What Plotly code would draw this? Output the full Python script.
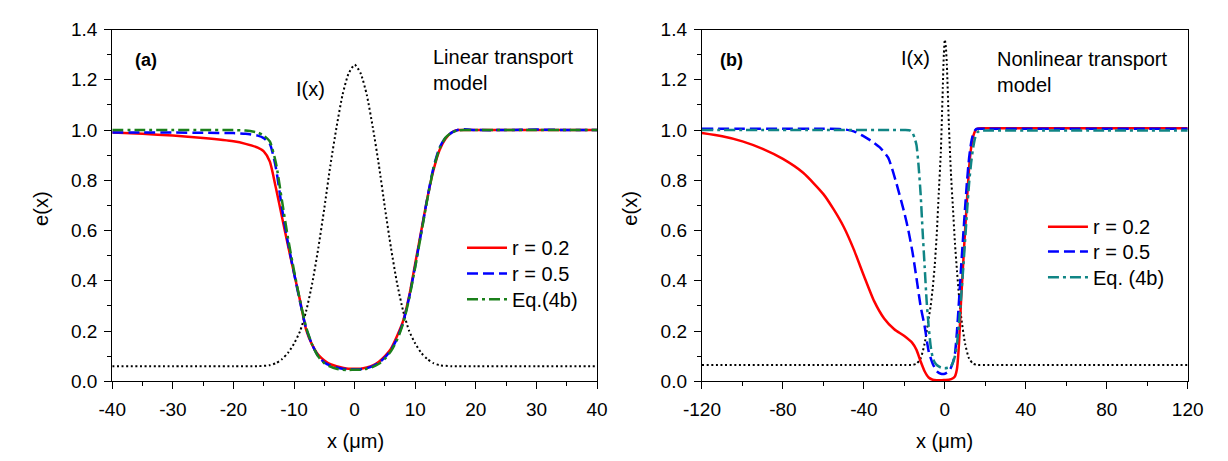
import plotly.graph_objects as go

# ---------------- Panel (a): linear transport model ----------------
xa = [-40, -35, -30, -25, -20, -18, -16, -15, -14, -13, -12, -11, -10, -9, -8, -7, -6, -5, -4, -3, -2, -1,
      0, 1, 2, 3, 4, 5, 6, 7, 8, 9, 10, 11, 12, 13, 14, 15, 16, 17, 18, 20, 25, 30, 35, 40]
a_r02 = [0.99, 0.985, 0.978, 0.968, 0.955, 0.945, 0.93, 0.915, 0.875, 0.77, 0.655, 0.54, 0.43, 0.32, 0.205, 0.145,
         0.105, 0.083, 0.068, 0.06, 0.054, 0.05, 0.05, 0.05, 0.055, 0.063, 0.078, 0.1, 0.13, 0.18, 0.24, 0.34,
         0.47, 0.6, 0.73, 0.84, 0.92, 0.965, 0.99, 1.0, 1.0, 1.0, 1.0, 1.0, 1.0, 1.0]
a_r05 = [0.99, 0.99, 0.99, 0.989, 0.988, 0.985, 0.978, 0.968, 0.945, 0.85, 0.69, 0.55, 0.43, 0.315, 0.21, 0.145,
         0.1, 0.075, 0.062, 0.055, 0.05, 0.048, 0.047, 0.048, 0.052, 0.06, 0.074, 0.095, 0.125, 0.17, 0.235, 0.335,
         0.46, 0.595, 0.73, 0.85, 0.93, 0.97, 0.99, 1.0, 1.003, 1.0, 1.0, 1.002, 1.0, 1.0]
a_eq = [1.0, 1.0, 1.0, 1.0, 1.0, 0.998, 0.99, 0.978, 0.955, 0.87, 0.72, 0.57, 0.44, 0.32, 0.215, 0.145,
        0.098, 0.072, 0.058, 0.05, 0.046, 0.045, 0.046, 0.046, 0.05, 0.057, 0.07, 0.09, 0.12, 0.165, 0.23, 0.33,
        0.455, 0.59, 0.725, 0.845, 0.925, 0.97, 0.99, 0.998, 1.0, 1.0, 1.0, 1.0, 1.0, 1.0]
xa_I = [-40, -30, -20, -16, -14, -13, -12, -11, -10, -9, -8, -7, -6, -5, -4, -3, -2, -1, 0,
        1, 2, 3, 4, 5, 6, 7, 8, 9, 10, 11, 12, 13, 14, 16, 20, 30, 40]
a_I = [0.06, 0.06, 0.06, 0.06, 0.064, 0.072, 0.088, 0.113, 0.15, 0.2, 0.28, 0.39, 0.53, 0.69, 0.86, 1.01, 1.14,
       1.225, 1.26, 1.225, 1.14, 1.01, 0.86, 0.69, 0.53, 0.39, 0.28, 0.2, 0.15, 0.113, 0.088, 0.072, 0.064,
       0.06, 0.06, 0.06, 0.06]

# ---------------- Panel (b): nonlinear transport model ----------------
xb_r02 = [-120, -110, -100, -90, -80, -70, -60, -55, -50, -45, -40, -35, -30, -25, -20, -16, -14, -12, -10, -8,
          -6, -4, -2, 0, 2, 4, 5, 6, 7, 8, 9, 10, 11, 12, 13, 14, 15, 16, 18, 20, 40, 60, 80, 100, 120]
b_r02 = [0.988, 0.975, 0.955, 0.925, 0.885, 0.83, 0.745, 0.685, 0.615, 0.525, 0.42, 0.32, 0.25, 0.207, 0.18, 0.152,
         0.125, 0.08, 0.04, 0.015, 0.006, 0.004, 0.004, 0.005, 0.006, 0.012, 0.02, 0.05, 0.15, 0.32, 0.46, 0.6,
         0.73, 0.85, 0.93, 0.975, 0.997, 1.005, 1.007, 1.007, 1.007, 1.007, 1.007, 1.007, 1.007]
xb_r05 = [-120, -100, -80, -60, -50, -45, -40, -36, -32, -28, -24, -20, -18, -16, -14, -12, -10, -8, -6, -4, -2,
          0, 2, 3, 4, 5, 6, 7, 8, 9, 10, 11, 12, 13, 14, 15, 16, 20, 40, 60, 80, 100, 120]
b_r05 = [1.005, 1.005, 1.005, 1.005, 1.003, 0.995, 0.975, 0.955, 0.93, 0.89, 0.79, 0.67, 0.6, 0.515, 0.41, 0.3,
         0.22, 0.12, 0.07, 0.04, 0.03, 0.03, 0.04, 0.054, 0.075, 0.11, 0.2, 0.32, 0.45, 0.57, 0.69, 0.8, 0.89,
         0.95, 0.985, 1.0, 1.005, 1.005, 1.005, 1.005, 1.005, 1.005, 1.005]
xb_eq = [-120, -60, -20, -17, -16, -15, -14, -13, -12, -11, -10, -9, -8, -7, -6, -5, -4, -2, 0, 2, 3, 4, 5, 6,
         7, 8, 9, 10, 11, 12, 13, 14, 15, 16, 17, 18, 20, 40, 80, 120]
b_eq = [1.0, 1.0, 1.0, 0.998, 0.99, 0.97, 0.94, 0.86, 0.75, 0.6, 0.46, 0.32, 0.22, 0.14, 0.095, 0.075, 0.065,
        0.055, 0.052, 0.055, 0.06, 0.075, 0.1, 0.15, 0.23, 0.33, 0.44, 0.56, 0.68, 0.79, 0.87, 0.93, 0.97, 0.99,
        0.996, 0.998, 0.998, 0.998, 0.998, 0.998]
xb_I = [-120, -20, -16, -14, -12, -10, -8, -7, -6, -5, -4, -3, -2, -1, -0.5, 0, 0.5, 1, 2, 3, 4, 5, 6, 7, 8,
        10, 12, 14, 16, 20, 120]
b_I = [0.065, 0.065, 0.065, 0.07, 0.09, 0.15, 0.25, 0.3, 0.37, 0.46, 0.585, 0.75, 0.91, 1.17, 1.3, 1.36, 1.33,
       1.26, 1.02, 0.83, 0.69, 0.55, 0.44, 0.34, 0.26, 0.15, 0.09, 0.07, 0.065, 0.065, 0.065]

xticks_a = [-40, -30, -20, -10, 0, 10, 20, 30, 40]
xticks_b = [-120, -80, -40, 0, 40, 80, 120]
yticks = [0.0, 0.2, 0.4, 0.6, 0.8, 1.0, 1.2, 1.4]

RED, BLUE, GREEN, TEAL = "#ff0000", "#0000ff", "#1b801b", "#108585"
FONT = "Liberation Sans, Arial, sans-serif"
DOT = "2px,2.6px"
DASH = "11px,5px"
DASHDOT = "11px,4px,3px,4px"

W, H = 1228, 461
fig = go.Figure()

def add(x, y, color, dash, width, name, xa_, ya_, legend, show):
    fig.add_trace(go.Scatter(x=x, y=y, mode="lines", name=name, xaxis=xa_, yaxis=ya_,
                             line=dict(color=color, dash=dash, width=width, shape="spline", smoothing=0.6),
                             showlegend=show, legend=legend, hoverinfo="skip"))

add(xa_I, a_I, "black", DOT, 2, "I(x)", "x", "y", "legend", False)
add(xa, a_r02, RED, "solid", 2.5, "r = 0.2", "x", "y", "legend", True)
add(xa, a_r05, BLUE, DASH, 2.5, "r = 0.5", "x", "y", "legend2", True)
add(xa, a_eq, GREEN, DASHDOT, 2.5, "Eq.(4b)", "x", "y", "legend3", True)

add(xb_I, b_I, "black", DOT, 2, "I(x)", "x2", "y2", "legend4", False)
add(xb_r02, b_r02, RED, "solid", 2.5, "r = 0.2", "x2", "y2", "legend4", True)
add(xb_r05, b_r05, BLUE, DASH, 2.5, "r = 0.5", "x2", "y2", "legend5", True)
add(xb_eq, b_eq, TEAL, DASHDOT, 2.5, "Eq. (4b)", "x2", "y2", "legend6", True)

ydom = [(H - 389) / H, (H - 20.5) / H]

minor_common = dict(ticks="outside", ticklen=4, tickwidth=1.2, tickcolor="black")
axis_common = dict(showline=True, linecolor="black", linewidth=1.3, mirror=True, ticks="outside",
                   ticklen=7, tickwidth=1.2, tickcolor="black", showgrid=False, zeroline=False,
                   tickfont=dict(family=FONT, size=19, color="black"))


def legend_at(px, py):
    return dict(x=px / W, y=(H - py) / H, xanchor="left", yanchor="middle", bgcolor="rgba(0,0,0,0)",
                font=dict(family=FONT, size=20, color="black"), itemwidth=40, borderwidth=0)


fig.update_layout(
    width=W, height=H, margin=dict(l=0, r=0, t=0, b=0),
    paper_bgcolor="white", plot_bgcolor="white",
    font=dict(family=FONT, color="black"),
    xaxis=dict(axis_common, domain=[96 / W, 595 / W], anchor="y", range=[-40, 40],
               tickvals=xticks_a, ticktext=[str(v) for v in xticks_a], ticklabelstandoff=4,
               minor=dict(minor_common, dtick=5)),
    yaxis=dict(axis_common, domain=ydom, anchor="x", range=[0, 1.4], tickvals=yticks,
               ticktext=[f"{v:.1f}" for v in yticks], ticklabelstandoff=3,
               minor=dict(minor_common, dtick=0.1)),
    xaxis2=dict(axis_common, domain=[703 / W, 1203 / W], anchor="y2", range=[-120, 120],
                tickvals=xticks_b, ticktext=[str(v) for v in xticks_b], ticklabelstandoff=4,
                minor=dict(minor_common, dtick=20)),
    yaxis2=dict(axis_common, domain=ydom, anchor="x2", range=[0, 1.4], tickvals=yticks,
                ticktext=[f"{v:.1f}" for v in yticks], ticklabelstandoff=3,
                minor=dict(minor_common, dtick=0.1)),
    legend=legend_at(456, 249),
    legend2=legend_at(456, 276),
    legend3=legend_at(456, 303),
    legend4=legend_at(1054, 227),
    legend5=legend_at(1054, 253),
    legend6=legend_at(1054, 280),
)

def text(s, x, y, xref, yref, size=20, xanchor="center", yanchor="middle", textangle=0, align="center"):
    fig.add_annotation(text=s, x=x, y=y, xref=xref, yref=yref, showarrow=False, xanchor=xanchor,
                       yanchor=yanchor, textangle=textangle, align=align,
                       font=dict(family=FONT, size=size, color="black"))

# panel texts (data coordinates)
text("<b>(a)</b>", -34.5, 1.278, "x", "y", size=18)
text("Linear transport<br>model", 12.6, 1.24, "x", "y", xanchor="left", align="left")
text("I(x)", -7.3, 1.164, "x", "y")
text("<b>(b)</b>", -105.6, 1.278, "x2", "y2", size=18)
text("Nonlinear transport<br>model", 25.0, 1.231, "x2", "y2", xanchor="left", align="left")
text("I(x)", -14.4, 1.286, "x2", "y2")

# axis titles
text("e(x)", 22 / W, (H - 208) / H, "paper", "paper", textangle=-90)
text("e(x)", 628 / W, (H - 208) / H, "paper", "paper", textangle=-90)
text("x (\u03bcm)", 346 / W, (H - 452) / H, "paper", "paper")
text("x (\u03bcm)", 953 / W, (H - 452) / H, "paper", "paper")

fig.write_html("out.html", config={"displayModeBar": False},
               post_script="document.body.style.margin='0';document.body.style.overflow='hidden';")
